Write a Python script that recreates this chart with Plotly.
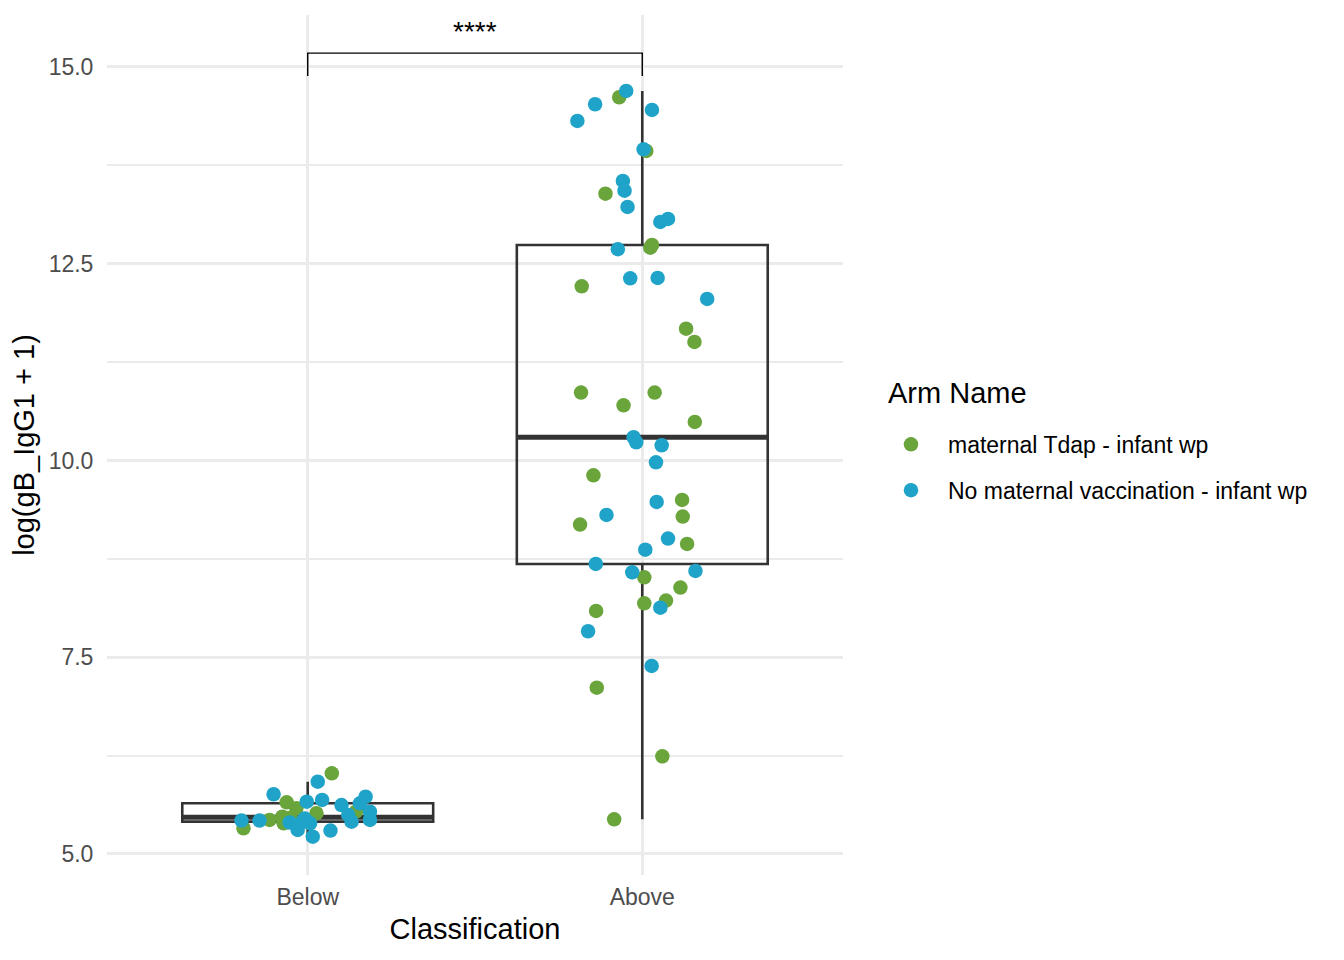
import numpy as np
import plotly.graph_objects as go

# classification groups, placed at positions 1 and 2 on the x axis
groups = ["Below", "Above"]
arms = ["maternal Tdap - infant wp", "No maternal vaccination - infant wp"]
arm_colors = ["#6AA53C", "#1FA3C8"]

# log(gB_IgG1 + 1) per group and arm, with the horizontal jitter
below_tdap_y = [6.025, 5.657, 5.581, 5.518, 5.538, 5.327, 5.432, 5.474, 5.390, 5.460]
below_tdap_jit = [0.072, -0.063, -0.034, 0.026, 0.144, -0.192, -0.114, -0.076, -0.072, -0.051]
below_none_y = [5.919, 5.759, 5.665, 5.686, 5.622, 5.728, 5.644, 5.538, 5.496, 5.432,
                5.411, 5.424, 5.424, 5.411, 5.390, 5.305, 5.220, 5.297, 5.450, 5.400]
below_none_jit = [0.030, -0.102, -0.003, 0.043, 0.101, 0.173, 0.156, 0.186, 0.121, 0.186,
                  0.131, -0.198, -0.144, -0.016, 0.007, -0.030, 0.015, 0.068, -0.009, -0.054]

above_tdap_y = [14.615, 13.933, 13.390, 12.704, 12.738, 12.213, 11.675, 11.506, 10.862, 10.862,
                10.701, 10.489, 9.812, 9.498, 9.287, 9.185, 8.939, 8.516, 8.385, 8.220,
                8.185, 8.088, 7.113, 6.241, 5.441]
above_tdap_jit = [-0.069, 0.012, -0.110, 0.024, 0.029, -0.181, 0.131, 0.156, -0.183, 0.037,
                  -0.056, 0.157, -0.146, 0.119, 0.121, -0.186, 0.134, 0.006, 0.114, 0.071,
                  0.006, -0.138, -0.136, 0.060, -0.084]
above_none_y = [14.695, 14.526, 14.314, 14.454, 13.954, 13.551, 13.428, 13.221, 13.030, 13.069,
                12.684, 12.315, 12.319, 12.052, 10.295, 10.231, 10.193, 9.977, 9.473, 9.308,
                9.007, 8.867, 8.685, 8.579, 8.596, 8.130, 7.830, 7.389]
above_none_jit = [-0.048, -0.141, -0.194, 0.029, 0.004, -0.058, -0.053, -0.044, 0.054, 0.077,
                  -0.073, -0.036, 0.046, 0.194, -0.026, -0.018, 0.058, 0.041, 0.043, -0.107,
                  0.077, 0.009, -0.139, -0.030, 0.159, 0.054, -0.162, 0.028]

y_ticks = [5.0, 7.5, 10.0, 12.5, 15.0]
signif_label = "****"

FONT = "Liberation Sans, Arial, Helvetica, sans-serif"
BOX_W = 0.75

below_all = below_tdap_y + below_none_y
above_all = above_tdap_y + above_none_y

fig = go.Figure()

# boxes (outliers hidden like outlier.shape = NA)
fig.add_trace(go.Box(
    x=[1] * len(below_all) + [2] * len(above_all),
    y=below_all + above_all,
    boxpoints="outliers", quartilemethod="inclusive",
    width=BOX_W, whiskerwidth=0,
    marker=dict(opacity=0, size=1),
    line=dict(color="#333333", width=2.6),
    fillcolor="rgba(0,0,0,0)",
    showlegend=False, hoverinfo="skip",
))

# thicker median line, like ggplot's fatten
for pos, vals in [(1, below_all), (2, above_all)]:
    med = float(np.median(vals))
    fig.add_trace(go.Scatter(
        x=[pos - BOX_W / 2, pos + BOX_W / 2], y=[med, med], mode="lines",
        line=dict(color="#333333", width=5), showlegend=False, hoverinfo="skip",
    ))

# jittered points
pts = [
    (arms[0], arm_colors[0], below_tdap_y, below_tdap_jit, above_tdap_y, above_tdap_jit),
    (arms[1], arm_colors[1], below_none_y, below_none_jit, above_none_y, above_none_jit),
]
for name, col, by, bj, ay, aj in pts:
    xs = [1 + j for j in bj] + [2 + j for j in aj]
    fig.add_trace(go.Scatter(
        x=xs, y=by + ay, mode="markers", name=name, legendgroup=name,
        marker=dict(color=col, size=14.5, line=dict(width=0)),
    ))

# significance bracket
top = max(above_all)
bar_y = top + 0.48
fig.add_shape(type="path", xref="x", yref="y",
              path=f"M 1,{bar_y - 0.29} L 1,{bar_y} L 2,{bar_y} L 2,{bar_y - 0.29}",
              line=dict(color="black", width=1.4))
fig.add_annotation(x=1.5, y=bar_y + 0.27, text=signif_label, showarrow=False,
                   font=dict(size=28, color="black", family=FONT), xref="x", yref="y")

# legend title drawn separately so its gap to the entries can be set
fig.add_annotation(x=1.0584, y=0.5605, xref="paper", yref="paper", text="Arm Name",
                   showarrow=False, xanchor="left", yanchor="middle",
                   font=dict(size=29, color="black", family=FONT))

fig.update_layout(
    width=1328, height=944,
    margin=dict(l=99, r=493, t=7, b=77),
    plot_bgcolor="white", paper_bgcolor="white",
    font=dict(family=FONT, color="black"),
    legend=dict(
        font=dict(size=23, color="black"),
        x=1.0421, y=0.474, xanchor="left", yanchor="middle",
        bgcolor="rgba(0,0,0,0)", tracegroupgap=13, itemwidth=64,
    ),
)
fig.update_xaxes(
    range=[0.4, 2.6], tickvals=[1, 2], ticktext=groups,
    showgrid=True, gridcolor="#EBEBEB", gridwidth=3, zeroline=False,
    ticks="outside", ticklen=1, tickcolor="rgba(0,0,0,0)",
    tickfont=dict(size=23, color="#4D4D4D"),
    title=dict(text="Classification", font=dict(size=29, color="black"), standoff=10),
    automargin=False,
)
fig.update_yaxes(
    range=[4.733, 15.66], tickvals=y_ticks, tickformat=".1f",
    showgrid=True, gridcolor="#EBEBEB", gridwidth=3, zeroline=False,
    minor=dict(tick0=6.25, dtick=2.5, showgrid=True, gridcolor="#EBEBEB", gridwidth=1.5),
    ticks="outside", ticklen=8, tickcolor="rgba(0,0,0,0)",
    tickfont=dict(size=23, color="#4D4D4D"),
    title=dict(text="log(gB_IgG1 + 1)", font=dict(size=29, color="black"), standoff=6),
    automargin=False,
)

fig.write_html("out.html")
